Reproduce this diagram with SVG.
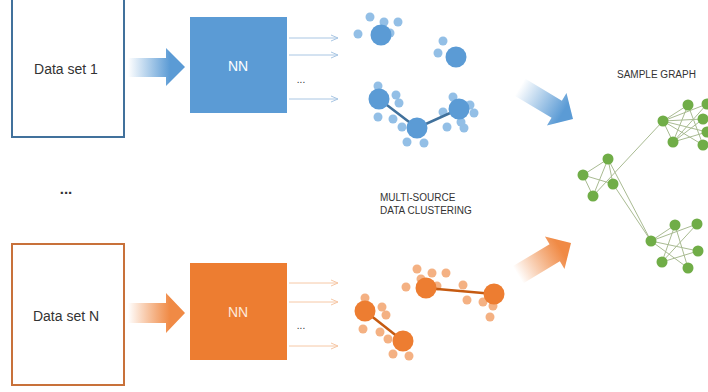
<svg xmlns="http://www.w3.org/2000/svg" width="708" height="392" viewBox="0 0 708 392">
<defs>
<style>
.lbl{font-family:"Liberation Sans",Arial,sans-serif;fill:#333;}
.nn{font-family:"Liberation Sans",Arial,sans-serif;font-size:14px;text-anchor:middle;}
.bsm{fill:#93bfe6;}
.bbig{fill:#5b9bd5;}
.osm{fill:#f4b183;}
.obig{fill:#ed7d31;}
.gn{fill:#70ad47;}
.ge{stroke:#a9bb92;stroke-width:1;fill:none;}
.bout{stroke:#a9c6e3;stroke-width:1;marker-end:url(#mb);}
.oout{stroke:#f6c8a6;stroke-width:1;marker-end:url(#mo);}
</style>
<marker id="mb" viewBox="0 0 8 8" refX="7" refY="4" markerWidth="8" markerHeight="8" markerUnits="userSpaceOnUse" orient="auto"><path d="M0,1 L7,4 L0,7" fill="none" stroke="#a9c6e3" stroke-width="1"/></marker>
<marker id="mo" viewBox="0 0 8 8" refX="7" refY="4" markerWidth="8" markerHeight="8" markerUnits="userSpaceOnUse" orient="auto"><path d="M0,1 L7,4 L0,7" fill="none" stroke="#f6c8a6" stroke-width="1"/></marker>
<linearGradient id="gbh" gradientUnits="userSpaceOnUse" x1="128" y1="0" x2="170" y2="0"><stop offset="0" stop-color="#5b9bd5" stop-opacity="0"/><stop offset="1" stop-color="#5b9bd5"/></linearGradient>
<linearGradient id="goh" gradientUnits="userSpaceOnUse" x1="128" y1="0" x2="170" y2="0"><stop offset="0" stop-color="#ed7d31" stop-opacity="0"/><stop offset="1" stop-color="#f08a45"/></linearGradient>
<linearGradient id="gbd" gradientUnits="userSpaceOnUse" x1="-62" y1="0" x2="-12" y2="0"><stop offset="0" stop-color="#5b9bd5" stop-opacity="0"/><stop offset="1" stop-color="#5b9bd5"/></linearGradient>
<linearGradient id="god" gradientUnits="userSpaceOnUse" x1="-62" y1="0" x2="-12" y2="0"><stop offset="0" stop-color="#ed7d31" stop-opacity="0"/><stop offset="1" stop-color="#f08a45"/></linearGradient>
</defs>
<rect width="708" height="392" fill="#fff"/>

<g id="dataset1">
<rect x="12" y="-5" width="112" height="142" fill="#fff" stroke="#41719c" stroke-width="2"/>
<text class="lbl" x="66" y="74" font-size="14" text-anchor="middle">Data set 1</text>
</g>
<g id="datasetN">
<rect x="12" y="244" width="112" height="141" fill="#fff" stroke="#c8713a" stroke-width="2"/>
<text class="lbl" x="66" y="321" font-size="14" text-anchor="middle">Data set N</text>
</g>
<text class="lbl" x="66" y="194" font-size="15" text-anchor="middle" font-weight="bold">...</text>

<g id="arrow-blue-h"><polygon points="128,58 166,58 166,48 185,67 166,86 166,77 128,77" fill="url(#gbh)"/></g>
<g id="arrow-orange-h"><polygon points="128,303 166,303 166,293 185,313 166,333 166,323 128,323" fill="url(#goh)"/></g>

<g id="nn1">
<rect x="190" y="17" width="97" height="96" fill="#5b9bd5"/>
<text class="nn" x="238" y="71" fill="#fff">NN</text>
</g>
<g id="nnN">
<rect x="190" y="263" width="97" height="97" fill="#ed7d31"/>
<text class="nn" x="238" y="317" fill="#fde9d9">NN</text>
</g>

<g id="connectors">
<line class="bout" x1="289" y1="38" x2="338" y2="38"/>
<line class="bout" x1="289" y1="55" x2="338" y2="55"/>
<line class="bout" x1="289" y1="99" x2="338" y2="99"/>
<line class="oout" x1="289" y1="283" x2="338" y2="283"/>
<line class="oout" x1="289" y1="302" x2="338" y2="302"/>
<line class="oout" x1="289" y1="346" x2="338" y2="346"/>
</g>
<text class="lbl" x="301" y="83" font-size="10" text-anchor="middle">...</text>
<text class="lbl" x="301" y="329" font-size="10" text-anchor="middle">...</text>

<g id="blue-clusters">
<circle class="bsm" cx="370" cy="17" r="4.5"/>
<circle class="bsm" cx="384" cy="22" r="4.5"/>
<circle class="bsm" cx="398" cy="22" r="4.5"/>
<circle class="bsm" cx="358" cy="34" r="4.5"/>
<circle class="bsm" cx="390" cy="33" r="4.5"/>
<circle class="bbig" cx="381" cy="35" r="10.5"/>
<circle class="bsm" cx="443" cy="41" r="4.5"/>
<circle class="bsm" cx="438" cy="53" r="4.5"/>
<circle class="bbig" cx="456" cy="57" r="10.5"/>
<circle class="bsm" cx="378" cy="86" r="4.5"/>
<circle class="bsm" cx="396" cy="95" r="4.5"/>
<circle class="bsm" cx="399" cy="103" r="4.5"/>
<circle class="bsm" cx="378" cy="117" r="4.5"/>
<circle class="bsm" cx="393" cy="119" r="4.5"/>
<circle class="bsm" cx="402" cy="127" r="4.5"/>
<circle class="bsm" cx="407" cy="142" r="4.5"/>
<circle class="bsm" cx="424" cy="143" r="4.5"/>
<circle class="bsm" cx="453" cy="97" r="4.5"/>
<circle class="bsm" cx="470" cy="105" r="4.5"/>
<circle class="bsm" cx="474" cy="113" r="4.5"/>
<circle class="bsm" cx="443" cy="112" r="4.5"/>
<circle class="bsm" cx="447" cy="127" r="4.5"/>
<circle class="bsm" cx="464" cy="128" r="4.5"/>
<circle class="bsm" cx="461" cy="122" r="4.5"/>
<polyline points="379,99 417,128 459,109" fill="none" stroke="#41719c" stroke-width="2.5"/>
<circle class="bbig" cx="379" cy="99" r="10.5"/>
<circle class="bbig" cx="417" cy="128" r="10.5"/>
<circle class="bbig" cx="459" cy="109" r="10.5"/>
</g>

<g id="orange-clusters">
<circle class="osm" cx="417" cy="269" r="4.5"/>
<circle class="osm" cx="432" cy="273" r="4.5"/>
<circle class="osm" cx="446" cy="273" r="4.5"/>
<circle class="osm" cx="406" cy="287" r="4.5"/>
<circle class="osm" cx="437" cy="286" r="4.5"/>
<circle class="osm" cx="421" cy="279" r="4.5"/>
<circle class="osm" cx="463" cy="285" r="4.5"/>
<circle class="osm" cx="467" cy="300" r="4.5"/>
<circle class="osm" cx="483" cy="302" r="4.5"/>
<circle class="osm" cx="493" cy="306" r="4.5"/>
<circle class="osm" cx="490" cy="317" r="4.5"/>
<circle class="osm" cx="365" cy="298" r="4.5"/>
<circle class="osm" cx="382" cy="307" r="4.5"/>
<circle class="osm" cx="386" cy="315" r="4.5"/>
<circle class="osm" cx="363" cy="329" r="4.5"/>
<circle class="osm" cx="380" cy="332" r="4.5"/>
<circle class="osm" cx="388" cy="339" r="4.5"/>
<circle class="osm" cx="393" cy="354" r="4.5"/>
<circle class="osm" cx="409" cy="356" r="4.5"/>
<line x1="426" y1="288" x2="494" y2="294" stroke="#c55a11" stroke-width="2.5"/>
<line x1="365" y1="311" x2="403" y2="341" stroke="#c55a11" stroke-width="2.5"/>
<circle class="obig" cx="426" cy="288" r="10.5"/>
<circle class="obig" cx="494" cy="294" r="10.5"/>
<circle class="obig" cx="365" cy="311" r="10.5"/>
<circle class="obig" cx="403" cy="341" r="10.5"/>
</g>

<text class="lbl" x="380" y="201" font-size="10">MULTI-SOURCE</text>
<text class="lbl" x="380" y="214" font-size="10">DATA CLUSTERING</text>
<text class="lbl" x="617" y="78" font-size="10">SAMPLE GRAPH</text>

<g id="arrow-blue-d" transform="translate(573,119) rotate(31)"><polygon points="-62,-10 -19,-10 -19,-19 0,0 -19,19 -19,10 -62,10" fill="url(#gbd)"/></g>
<g id="arrow-orange-d" transform="translate(571,243) rotate(-31)"><polygon points="-62,-10 -19,-10 -19,-19 0,0 -19,19 -19,10 -62,10" fill="url(#god)"/></g>

<g id="sample-graph">
<g class="ge">
<line x1="663" y1="121" x2="688" y2="105"/>
<line x1="663" y1="121" x2="707" y2="104"/>
<line x1="663" y1="121" x2="703" y2="119"/>
<line x1="663" y1="121" x2="707" y2="132"/>
<line x1="663" y1="121" x2="703" y2="145"/>
<line x1="663" y1="121" x2="673" y2="142"/>
<line x1="688" y1="105" x2="673" y2="142"/>
<line x1="688" y1="105" x2="703" y2="145"/>
<line x1="673" y1="142" x2="707" y2="104"/>
<line x1="673" y1="142" x2="703" y2="119"/>
<line x1="673" y1="142" x2="707" y2="132"/>
<line x1="663" y1="121" x2="593" y2="196"/>
<line x1="583" y1="175" x2="608" y2="159"/>
<line x1="583" y1="175" x2="613" y2="184"/>
<line x1="583" y1="175" x2="593" y2="196"/>
<line x1="608" y1="159" x2="593" y2="196"/>
<line x1="608" y1="159" x2="613" y2="184"/>
<line x1="608" y1="159" x2="651" y2="241"/>
<line x1="613" y1="184" x2="651" y2="241"/>
<line x1="651" y1="241" x2="675" y2="225"/>
<line x1="651" y1="241" x2="697" y2="224"/>
<line x1="651" y1="241" x2="698" y2="251"/>
<line x1="651" y1="241" x2="688" y2="268"/>
<line x1="675" y1="225" x2="662" y2="262"/>
<line x1="675" y1="225" x2="688" y2="268"/>
<line x1="697" y1="224" x2="662" y2="262"/>
<line x1="662" y1="262" x2="698" y2="251"/>
</g>
<circle class="gn" cx="688" cy="105" r="5.5"/>
<circle class="gn" cx="707" cy="104" r="5.5"/>
<circle class="gn" cx="663" cy="121" r="5.5"/>
<circle class="gn" cx="703" cy="119" r="5.5"/>
<circle class="gn" cx="707" cy="132" r="5.5"/>
<circle class="gn" cx="673" cy="142" r="5.5"/>
<circle class="gn" cx="703" cy="145" r="5.5"/>
<circle class="gn" cx="608" cy="159" r="5.5"/>
<circle class="gn" cx="583" cy="175" r="5.5"/>
<circle class="gn" cx="613" cy="184" r="5.5"/>
<circle class="gn" cx="593" cy="196" r="5.5"/>
<circle class="gn" cx="651" cy="241" r="5.5"/>
<circle class="gn" cx="675" cy="225" r="5.5"/>
<circle class="gn" cx="697" cy="224" r="5.5"/>
<circle class="gn" cx="698" cy="251" r="5.5"/>
<circle class="gn" cx="662" cy="262" r="5.5"/>
<circle class="gn" cx="688" cy="268" r="5.5"/>
</g>
</svg>
